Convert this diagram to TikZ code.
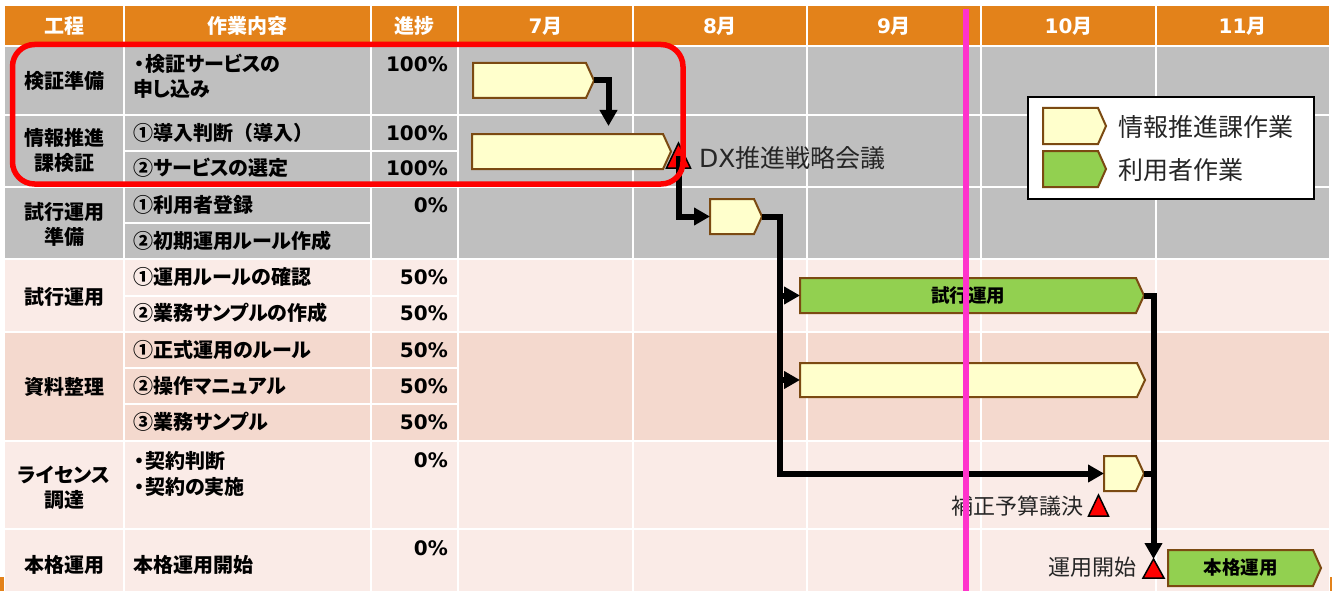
\documentclass[tikz,border=0pt]{standalone}
\usepackage{fontspec}
\setmainfont{Noto Sans CJK JP}[RawFeature=+palt]
\newfontfamily\fullw{Noto Sans CJK JP}
\newfontfamily\lat{DejaVu Sans}
\usetikzlibrary{arrows.meta}
\definecolor{hdr}{HTML}{E3821A}
\definecolor{gry}{HTML}{BFBFBF}
\definecolor{pkA}{HTML}{FAEBE7}
\definecolor{pkB}{HTML}{F4D9CE}
\definecolor{ylw}{HTML}{FFFFCC}
\definecolor{grn}{HTML}{92D050}
\definecolor{brn}{HTML}{7B4A12}
\definecolor{mag}{HTML}{FF33CC}
\definecolor{lbl}{HTML}{262626}
\tikzset{
  gridline/.style={white, line width=2pt},
  hd/.style={text=white, font=\bfseries\fontsize{20}{24}\selectfont, inner sep=0, anchor=center},
  colA/.style={text=black, font=\bfseries\fontsize{20}{24}\selectfont, inner sep=0, anchor=center},
  colB/.style={text=black, font=\bfseries\fontsize{20}{24}\selectfont, inner sep=0, anchor=west},
  colC/.style={text=black, font=\lat\bfseries\fontsize{20}{24}\selectfont, inner sep=0, anchor=east},
  barshape/.style={draw=brn, line width=2pt, line join=miter},
  ybar/.style={fill=ylw},
  gbar/.style={fill=grn},
  barbox/.style={inner sep=0, outer sep=0},
  barlbl/.style={text=black, font=\bfseries\fontsize{18.5}{22}\selectfont, inner sep=0},
  msshape/.style={fill=red, draw=black, line width=1.5pt, line join=miter},
  msbox/.style={inner sep=0, outer sep=0},
  mslbl/.style={text=lbl, font=\fontsize{22}{26}\selectfont, inner sep=0},
  leglbl/.style={text=lbl, font=\fontsize{25}{30}\selectfont, inner sep=0, anchor=west},
  conn/.style={line width=6pt, -{Triangle[length=16pt,width=17pt]}},
  plainconn/.style={line width=6pt},
}
% name, x1, y1, x2(tip), y2, style
\newcommand\ganttbar[6]{%
  \path[barshape,#6] (#2,#3) -- ({#4-8},#3) -- (#4,{(#3+#5)/2}) -- ({#4-8},#5) -- (#2,#5) -- cycle;
  \node[barbox, minimum width={#4-#2}, minimum height={#5-#3}] (#1) at ({(#2+#4)/2},{(#3+#5)/2}) {};
}
% name, cx, ybottom, width, height
\newcommand\milestone[5]{%
  \path[msshape] ({#2-#4/2},#3) -- ({#2+#4/2},#3) -- (#2,{#3-#5}) -- cycle;
  \node[msbox, minimum width={#4}, minimum height={#5}] (#1) at (#2,{#3-#5/2}) {};
}
\newcommand\dotmark{\makebox[12pt][c]{・}}
\newcommand\dig[1]{{\lat\bfseries #1}}
\begin{document}
\begin{tikzpicture}[x=1pt,y=-1pt]
\fill[white] (0,0) rectangle (1332,591);
\useasboundingbox (0,0) rectangle (1332,591);
% row fills
\fill[hdr] (5,6) rectangle (1329,46);
\fill[gry] (5,46) rectangle (1329,259);
\fill[pkA] (5,259) rectangle (1329,332);
\fill[pkB] (5,332) rectangle (1329,441);
\fill[pkA] (5,441) rectangle (1329,591);
\fill[hdr] (0,577) rectangle (4,591);
\fill[hdr] (1330,577) rectangle (1332,591);
% grid
\foreach \y in {46,115,187,259,332,441,529} \draw[gridline] (5,\y) -- (1329,\y);
\foreach \y in {151,296,368,404} \draw[gridline] (124,\y) -- (458,\y);
\draw[gridline] (124,223) -- (371,223);
\foreach \x in {124,371,458,633,807,981,1156} \draw[gridline] (\x,6) -- (\x,591);
% header
\node[hd] (h1) at (64,26) {工程};
\node[hd] (h2) at (247.5,26) {作業内容};
\node[hd] (h3) at (414.5,26) {進捗};
\node[hd] (h4) at (545.5,26) {\dig{7}月};
\node[hd] (h5) at (720,26) {\dig{8}月};
\node[hd] (h6) at (894,26) {\dig{9}月};
\node[hd] (h7) at (1068.5,26) {\dig{10}月};
\node[hd] (h8) at (1242.5,26) {\dig{11}月};
% column 1
\node[colA] (a1) at (64,81) {検証準備};
\node[colA] (a2) at (64,138) {情報推進};
\node[colA] (a3) at (64,163) {課検証};
\node[colA] (a4) at (64,212) {試行運用};
\node[colA] (a5) at (64,237) {準備};
\node[colA] (a6) at (64,297) {試行運用};
\node[colA] (a7) at (64,387) {資料整理};
\node[colA] (a8) at (64,475) {ライセンス};
\node[colA] (a9) at (64,500) {調達};
\node[colA] (a10) at (64,565) {本格運用};
% column 2
\node[colB] (w1) at (133,64) {\dotmark 検証サービスの};
\node[colB] (w2) at (133,89) {申し込み};
\node[colB] (w3) at (133,133) {\fullw ①導入判断（導入）};
\node[colB] (w4) at (133,168) {②サービスの選定};
\node[colB] (w5) at (133,205) {①利用者登録};
\node[colB] (w6) at (133,241) {②初期運用ルール作成};
\node[colB] (w7) at (133,277) {①運用ルールの確認};
\node[colB] (w8) at (133,313) {②業務サンプルの作成};
\node[colB] (w9) at (133,350) {①正式運用のルール};
\node[colB] (w10) at (133,386) {②操作マニュアル};
\node[colB] (w11) at (133,422) {③業務サンプル};
\node[colB] (w12) at (133,461) {\dotmark 契約判断};
\node[colB] (w13) at (133,487) {\dotmark 契約の実施};
\node[colB] (w14) at (133,565) {本格運用開始};
% column 3
\node[colC] (p1) at (448,64) {100\%};
\node[colC] (p2) at (448,133) {100\%};
\node[colC] (p3) at (448,168) {100\%};
\node[colC] (p4) at (448,205) {0\%};
\node[colC] (p5) at (448,277) {50\%};
\node[colC] (p6) at (448,313) {50\%};
\node[colC] (p7) at (448,350) {50\%};
\node[colC] (p8) at (448,386) {50\%};
\node[colC] (p9) at (448,422) {50\%};
\node[colC] (p10) at (448,460) {0\%};
\node[colC] (p11) at (448,548) {0\%};
% bars
\ganttbar{b1}{473}{63}{594}{98}{ybar}
\ganttbar{b2}{472}{134}{671}{169}{ybar}
\ganttbar{b3}{710}{199}{762}{234}{ybar}
\ganttbar{b4}{800}{278}{1144}{313}{gbar}
\ganttbar{b5}{800}{363}{1145}{397}{ybar}
\ganttbar{b6}{1104}{456}{1144}{491}{ybar}
\ganttbar{b7}{1168}{550}{1321}{586}{gbar}
\node[barlbl] (b4t) at ([xshift=-4pt]b4.center) {試行運用};
\node[barlbl] (b7t) at ([xshift=-4pt]b7.center) {本格運用};
% milestones
\milestone{m1}{678.5}{168}{24}{25}
\milestone{m2}{1098.5}{516}{20}{21}
\milestone{m3}{1153.5}{578}{21}{19}
\node[mslbl, anchor=west, font=\fontsize{25}{30}\selectfont] (m1t) at (699,158) {{\lat DX}推進戦略会議};
\node[mslbl, anchor=east] (m2t) at (1084,506) {補正予算議決};
\node[mslbl, anchor=east] (m3t) at (1137,567) {運用開始};
% connectors
\draw[conn, shorten >=8pt] (b1.east) -| ([xshift=37pt]b2.north);
\draw[conn] (m1.center) |- (b3.west);
\coordinate (j1) at ([xshift=18pt]b3.east);
\draw[conn] (b3.east) -- (j1) -- (j1 |- b6.west) -- (b6.west);
\draw[conn] (j1 |- b4.west) -- (b4.west);
\draw[conn] (j1 |- b5.west) -- (b5.west);
\draw[conn] (b4.east) -| (m3.north);
\draw[plainconn] (b6.east) -- (b6.east -| m3.north);
% legend
\node[draw=black, fill=white, line width=1.5pt, inner sep=0, minimum width=286pt, minimum height=102pt] (leg) at (1171,148) {};
\ganttbar{l1}{1043}{108}{1106}{144}{ybar}
\ganttbar{l2}{1043}{151}{1106}{187}{gbar}
\node[leglbl] (l1t) at (1118,127) {情報推進課作業};
\node[leglbl] (l2t) at (1118,170) {利用者作業};
% highlight and today line
\node[draw=red, line width=5.5pt, rounded corners=22pt, inner sep=0, minimum width=670.5pt, minimum height=139.5pt] (focus) at (347.75,114.25) {};
\coordinate (today top) at (966,9);
\coordinate (today bottom) at (966,591);
\draw[mag, line width=6.5pt] (today top) -- (today bottom);
\end{tikzpicture}
\end{document}
